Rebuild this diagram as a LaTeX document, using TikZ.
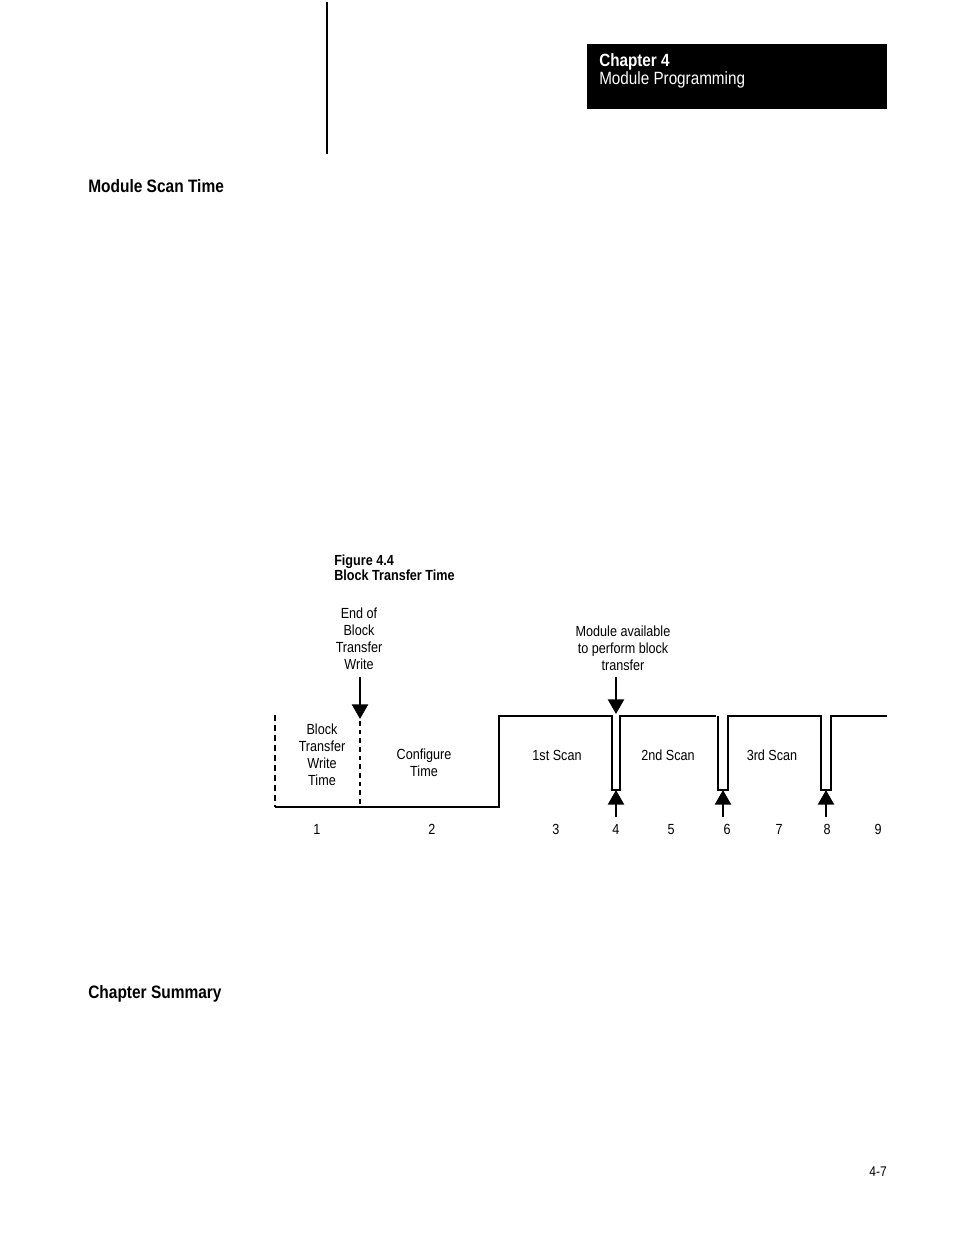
\documentclass[tikz,border=0pt]{standalone}
\usepackage{fontspec}
\setmainfont{Liberation Sans}[FakeStretch=0.86]
\usetikzlibrary{arrows.meta}
\begin{document}
\begin{tikzpicture}[x=0.75pt,y=-0.75pt,
  lbl/.style={inner sep=0pt,align=center,font=\fontsize{11pt}{12.75pt}\selectfont},
  num/.style={inner sep=0pt,anchor=base,font=\fontsize{11pt}{12.75pt}\selectfont},
  head/.style={inner sep=0pt,anchor=west,font=\fontsize{13.5pt}{16pt}\selectfont\bfseries},
  sig/.style={line width=1.3pt,line join=miter},
  arr/.style={line width=1.8pt,-{Triangle[width=12pt,length=11pt]}}]
\useasboundingbox (0,0) rectangle (954,1235);
% header
\draw[line width=1pt] (327,2) -- (327,154);
\fill[black] (587,44) rectangle (887,109);
\node[inner sep=0pt,anchor=north west,align=left,text=white,font=\fontsize{13.3pt}{13.5pt}\selectfont] (hdr) at (599,53)
  {{\bfseries Chapter 4}\\Module Programming};
\node[head] (h1) at (88,186) {Module Scan Time};
\node[head] (h2) at (88,994) {Chapter Summary};
\node[inner sep=0pt,anchor=east,font=\fontsize{10.5pt}{12pt}\selectfont] (pg) at (887,1172) {4-7};
% figure title
\node[inner sep=0pt,anchor=north west,align=left,font=\fontsize{11pt}{11.2pt}\selectfont\bfseries] (ftitle) at (334,555)
  {Figure 4.4\\Block Transfer Time};
% signal
\draw[line width=0.8pt,dash pattern=on 4.5pt off 3pt] (275,715) -- (275,807);
\draw[line width=2pt,dash pattern=on 3.5pt off 3pt] (360,721) -- (360,807);
\draw[sig] (275,807) -- (499,807) -- (499,716) -- (612,716) -- (612,790) -- (620,790) -- (620,716)
  -- (716,716);
\draw[sig] (718,716) -- (718,790) -- (728,790) -- (728,716) -- (821,716) -- (821,790) -- (831,790)
  -- (831,716) -- (887,716);
\draw[line width=2.2pt] (620,717) -- (620,790);
\draw[line width=2.2pt] (718,716) -- (718,790);
% labels
\node[lbl] (endbtw) at (359,639) {End of\\Block\\Transfer\\Write};
\node[lbl] (avail) at (623,648) {Module available\\to perform block\\transfer};
\node[lbl] (btwt) at (322,754.5) {Block\\Transfer\\Write\\Time};
\node[lbl] (cfg) at (424,762.5) {Configure\\Time};
\node[lbl] (s1) at (557,755) {1st Scan};
\node[lbl] (s2) at (668,755) {2nd Scan};
\node[lbl] (s3) at (772,755) {3rd Scan};
% arrows
\coordinate (a1t) at (360,719);
\coordinate (a2t) at (616,714);
\coordinate (u1) at (616,790);
\coordinate (u2) at (723,790);
\coordinate (u3) at (826,790);
\draw[arr] (360,677) -- (a1t);
\draw[arr] (616,677) -- (a2t);
\draw[arr] (616,817) -- (u1);
\draw[arr] (723,817) -- (u2);
\draw[arr] (826,817) -- (u3);
% numbers
\node[num] (n1) at (317,834.5) {1};
\node[num] (n2) at (432,834.5) {2};
\node[num] (n3) at (556,834.5) {3};
\node[num] (n4) at (616,834.5) {4};
\node[num] (n5) at (671,834.5) {5};
\node[num] (n6) at (727,834.5) {6};
\node[num] (n7) at (779,834.5) {7};
\node[num] (n8) at (827,834.5) {8};
\node[num] (n9) at (878,834.5) {9};
\end{tikzpicture}
\end{document}
